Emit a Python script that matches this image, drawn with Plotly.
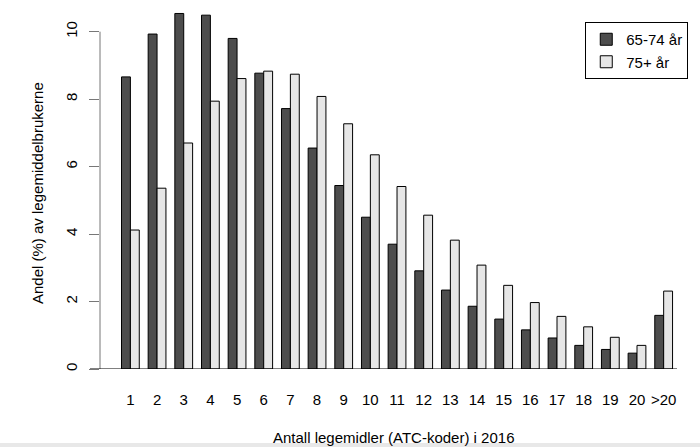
import plotly.graph_objects as go

categories = ["1", "2", "3", "4", "5", "6", "7", "8", "9", "10", "11", "12", "13", "14",
              "15", "16", "17", "18", "19", "20", ">20"]
group_65_74 = [8.66, 9.93, 10.54, 10.49, 9.80, 8.77, 7.72, 6.55, 5.44, 4.50, 3.70, 2.91,
               2.34, 1.86, 1.48, 1.16, 0.92, 0.70, 0.58, 0.47, 1.59]
group_75 = [4.12, 5.36, 6.70, 7.94, 8.61, 8.83, 8.74, 8.08, 7.27, 6.35, 5.41, 4.56,
            3.82, 3.08, 2.48, 1.97, 1.56, 1.25, 0.94, 0.70, 2.31]
series_names = ["65-74 år", "75+ år"]
y_ticks = [0, 2, 4, 6, 8, 10]

FONT = "Liberation Sans, Arial, sans-serif"

fig = go.Figure()
fig.add_trace(go.Bar(x=categories, y=group_65_74, name=series_names[0],
                     marker=dict(color="#4d4d4d", line=dict(color="black", width=1))))
fig.add_trace(go.Bar(x=categories, y=group_75, name=series_names[1],
                     marker=dict(color="#e6e6e6", line=dict(color="black", width=1))))

fig.update_layout(
    width=700, height=447,
    margin=dict(l=100, r=23, t=2, b=78, pad=0),
    paper_bgcolor="white", plot_bgcolor="white",
    barmode="group", bargap=1/3, bargroupgap=0,
    font=dict(family=FONT, size=15, color="black"),
    showlegend=True,
    legend=dict(x=0.841, y=0.9455, xanchor="left", yanchor="top",
                bordercolor="black", borderwidth=1, bgcolor="white",
                font=dict(family=FONT, size=15, color="black"),
                tracegroupgap=0, itemwidth=30),
    xaxis=dict(type="category", range=[-1.14, 20.5], showgrid=False, zeroline=False,
               showline=False, ticks="", ticklabelstandoff=20,
               tickfont=dict(family=FONT, size=15, color="black")),
    yaxis=dict(range=[0, 10.88], showgrid=False, zeroline=False, showline=False,
               tickvals=y_ticks, ticks="outside", ticklen=10, tickcolor="#777777",
               tickwidth=1, tickangle=-90, ticklabelstandoff=6,
               tickfont=dict(family=FONT, size=15, color="black")),
    shapes=[
        dict(type="line", xref="paper", yref="y", x0=0, x1=0, y0=0, y1=10,
             line=dict(color="#777777", width=1)),
        dict(type="line", xref="paper", yref="y", x0=-10/577, x1=1, y0=0, y1=0,
             line=dict(color="black", width=1)),
        dict(type="rect", xref="paper", yref="paper", x0=-100/577, x1=1 + 23/577,
             y0=-78/367, y1=-74/367, fillcolor="#e8e8e8", line=dict(width=0), layer="below"),
    ],
    annotations=[
        dict(text="Antall legemidler (ATC-koder) i 2016", xref="paper", yref="paper",
             x=(394 - 100) / 577, y=-(437 - 369) / 367, xanchor="center", yanchor="middle",
             showarrow=False, font=dict(family=FONT, size=15, color="black")),
        dict(text="Andel (%) av legemiddelbrukerne", xref="paper", yref="paper",
             x=(37 - 100) / 577, y=(369 - 193) / 367, xanchor="center", yanchor="middle",
             textangle=-90, showarrow=False, font=dict(family=FONT, size=15, color="black")),
    ],
)

fig.write_html("out.html", config={"displayModeBar": False},
               post_script="document.body.style.margin='0';document.body.style.padding='0';")
